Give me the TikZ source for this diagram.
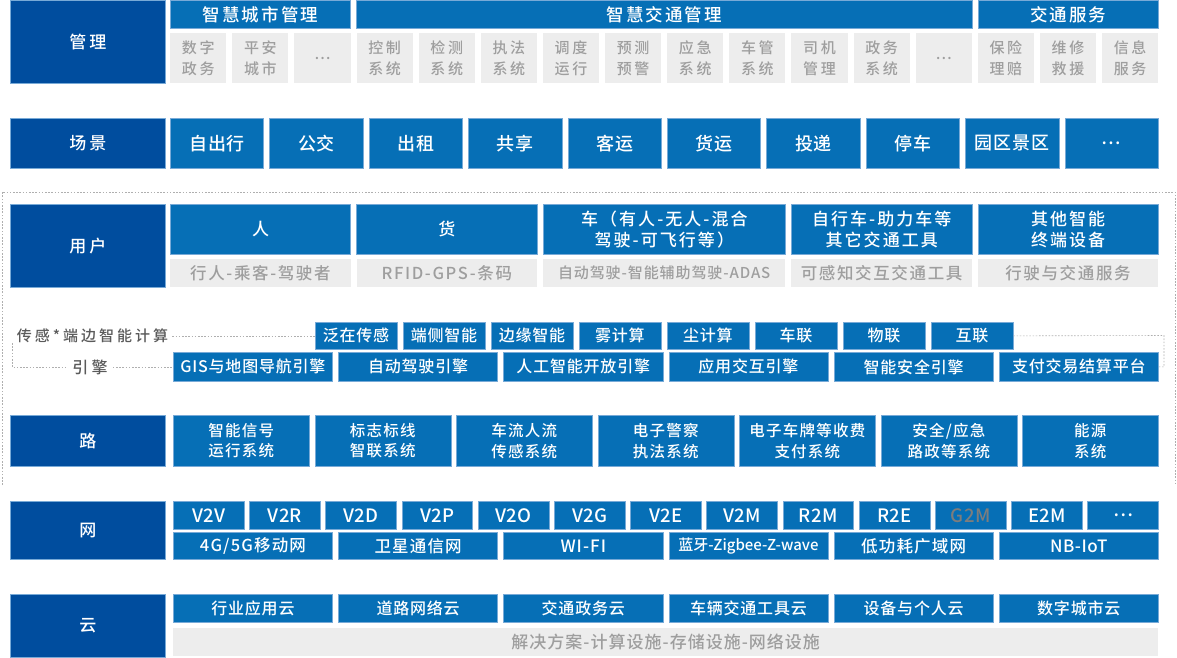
\documentclass[tikz,border=0pt]{standalone}
\usepackage{fontspec}
\setmainfont{Noto Sans CJK SC}[UprightFont={* Medium}]
\definecolor{dblue}{RGB}{0,77,158}
\definecolor{iblue}{RGB}{6,111,182}
\definecolor{lblue}{RGB}{120,170,215}
\definecolor{gbox}{RGB}{237,237,237}
\definecolor{gtext}{RGB}{158,158,158}
\definecolor{ltext}{RGB}{90,90,90}
\definecolor{gtm}{RGB}{125,125,125}
\definecolor{dotc}{RGB}{175,175,175}
\newcommand\fnt[3]{\fontsize{#1}{#2}\selectfont\addfontfeature{LetterSpace=#3}}
\tikzset{
  lab/.style={fill=dblue, draw=lblue, line width=0.7pt, text=white, inner sep=0pt, anchor=north west, font=\fnt{17}{21}{18}},
  blu/.style={fill=iblue, draw=lblue, line width=0.7pt, text=white, inner sep=0pt, anchor=north west, align=center},
  gry/.style={fill=gbox, text=gtext, inner sep=0pt, anchor=north west, align=center},
  dotline/.style={draw=dotc, line width=0.6pt, dash pattern=on 1.6pt off 1.6pt},
}
\begin{document}
\begin{tikzpicture}[x=1pt,y=-1pt]
\useasboundingbox (0,0) rectangle (1177,657);
% outer dotted frame
\draw[dotline] (2,485) -- (2,192) -- (1175,192) -- (1175,485);

% left labels
\node[lab, minimum width=155pt, minimum height=83pt] (Lgl) at (10,0) {管理};
\node[lab, minimum width=155pt, minimum height=50pt] (Lcj) at (10,118) {场景};
\node[lab, minimum width=155pt, minimum height=83pt] (Lyh) at (10,204) {用户};
\node[lab, minimum width=155pt, minimum height=51pt] (Llu) at (10,415) {路};
\node[lab, minimum width=155pt, minimum height=58pt] (Lwa) at (10,501) {网};
\node[lab, minimum width=155pt, minimum height=63pt] (Lyu) at (10,594) {云};

% management headers
\node[blu, font=\fnt{17.5}{21}{12}, minimum width=180.4pt, minimum height=28pt] (H1) at (170,0) {智慧城市管理};
\node[blu, font=\fnt{17.5}{21}{12}, minimum width=615.2pt, minimum height=28pt] (H2) at (356.4,0) {智慧交通管理};
\node[blu, font=\fnt{17.5}{21}{12}, minimum width=180.4pt, minimum height=28pt] (H3) at (977.6,0) {交通服务};
\foreach \t [count=\i from 0] in {{数字\\政务},{平安\\城市},…,{控制\\系统},{检测\\系统},{执法\\系统},{调度\\运行},{预测\\预警},{应急\\系统},{车管\\系统},{司机\\管理},{政务\\系统},…,{保险\\理赔},{维修\\救援},{信息\\服务}}
  \node[gry, font=\fnt{15}{21.5}{18}, minimum width=56.1pt, minimum height=50pt] (G\i) at ({170+\i*62.125},33) {\t};

% scenes
\foreach \t [count=\i from 0] in {自出行,公交,出租,共享,客运,货运,投递,停车,园区景区,…}
  \node[blu, font=\fnt{18}{21}{5}, minimum width=93.4pt, minimum height=50pt] (C\i) at ({170+\i*99.4},118) {\t};

% users
\node[blu, font=\fnt{17}{21}{12}, minimum width=180.4pt, minimum height=50pt] (U0) at (170,204) {人};
\node[blu, font=\fnt{17}{21}{12}, minimum width=180.4pt, minimum height=50pt] (U1) at (356.4,204) {货};
\node[blu, font=\fnt{17}{21}{12}, minimum width=242.4pt, minimum height=50pt] (U2) at (542.8,204) {车（有人-无人-混合\\驾驶-可飞行等）};
\node[blu, font=\fnt{17}{21}{12}, minimum width=180.4pt, minimum height=50pt] (U3) at (791.2,204) {自行车-助力车等\\其它交通工具};
\node[blu, font=\fnt{17}{21}{12}, minimum width=180.4pt, minimum height=50pt] (U4) at (977.6,204) {其他智能\\终端设备};
\node[gry, font=\fnt{16.5}{21}{10}, minimum width=180.4pt, minimum height=28pt] (V0) at (170,259) {行人-乘客-驾驶者};
\node[gry, font=\fnt{16.5}{21}{10}, minimum width=180.4pt, minimum height=28pt] (V1) at (356.4,259) {RFID-GPS-条码};
\node[gry, font=\fnt{15}{21}{6}, minimum width=242.4pt, minimum height=28pt] (V2) at (542.8,259) {自动驾驶-智能辅助驾驶-ADAS};
\node[gry, font=\fnt{16.5}{21}{10}, minimum width=180.4pt, minimum height=28pt] (V3) at (791.2,259) {可感知交互交通工具};
\node[gry, font=\fnt{16.5}{21}{10}, minimum width=180.4pt, minimum height=28pt] (V4) at (977.6,259) {行驶与交通服务};

% sensing row
\foreach \t [count=\i from 0] in {泛在传感,端侧智能,边缘智能,雾计算,尘计算,车联,物联,互联}
  \node[blu, font=\fnt{16}{20}{5}, minimum width=82pt, minimum height=27pt] (S\i) at ({314.6+\i*88},322) {\t};
% engine row
\foreach \t [count=\i from 0] in {GIS与地图导航引擎,自动驾驶引擎,人工智能开放引擎,应用交互引擎,智能安全引擎,支付交易结算平台}
  \node[blu, font=\fnt{16}{20}{5}, minimum width=159.17pt, minimum height=29pt] (E\i) at ({173+\i*165.17},352) {\t};

\node[font=\fnt{15}{20}{20}, text=ltext, inner xsep=4pt, inner ysep=1pt] (senlab) at (92.5,336) {传感*端边智能计算};
\node[font=\fnt{16}{20}{20}, text=ltext, inner xsep=5pt, inner ysep=1pt] (englab) at (90,367) {引擎};
\coordinate (lb) at (12,343);
\coordinate (rb) at (1164,335.5);
\draw[dotline] (senlab.east) -- (senlab.east -| S0.west);
\draw[dotline] (lb) |- (englab.west);
\draw[dotline] (englab.east) -- (englab.east -| E0.west);
\draw[dotline] (S7.east) -- (rb) |- (E5.east);

% road
\foreach \t [count=\i from 0] in {{智能信号\\运行系统},{标志标线\\智联系统},{车流人流\\传感系统},{电子警察\\执法系统},{电子车牌等收费\\支付系统},{安全/应急\\路政等系统},{能源\\系统}}
  \node[blu, font=\fnt{15.5}{20.5}{8}, minimum width=136pt, minimum height=51pt] (R\i) at ({173+\i*141.5},415) {\t};

% network
\foreach \t [count=\i from 0] in {V2V,V2R,V2D,V2P,V2O,V2G,V2E,V2M,R2M,R2E,{\textcolor{gtm}{G2M}},E2M,…}
  \node[blu, font=\fnt{18.5}{20}{2}, minimum width=70.7pt, minimum height=28pt] (N\i) at ({173+\i*76.2},501) {\t};
\node[blu, font=\fnt{16.5}{20}{7}, minimum width=159.17pt, minimum height=27pt] (M0) at (173,532) {4G/5G移动网};
\node[blu, font=\fnt{16.5}{20}{7}, minimum width=159.17pt, minimum height=27pt] (M1) at (338.17,532) {卫星通信网};
\node[blu, font=\fnt{17}{20}{6}, minimum width=159.17pt, minimum height=27pt] (M2) at (503.34,532) {WI-FI};
\node[blu, font=\fnt{15}{20}{0}, minimum width=159.17pt, minimum height=27pt] (M3) at (668.51,532) {蓝牙-Zigbee-Z-wave};
\node[blu, font=\fnt{16.5}{20}{7}, minimum width=159.17pt, minimum height=27pt] (M4) at (833.68,532) {低功耗广域网};
\node[blu, font=\fnt{17}{20}{3}, minimum width=159.17pt, minimum height=27pt] (M5) at (998.85,532) {NB-IoT};

% cloud
\foreach \t [count=\i from 0] in {行业应用云,道路网络云,交通政务云,车辆交通工具云,设备与个人云,数字城市云}
  \node[blu, font=\fnt{16}{20}{5}, minimum width=159.17pt, minimum height=28pt] (Y\i) at ({173+\i*165.17},594) {\t};
\node[gry, font=\fnt{17}{20}{6}, minimum width=985pt, minimum height=28pt] (Yg) at (173,628) {解决方案-计算设施-存储设施-网络设施};
\end{tikzpicture}
\end{document}
